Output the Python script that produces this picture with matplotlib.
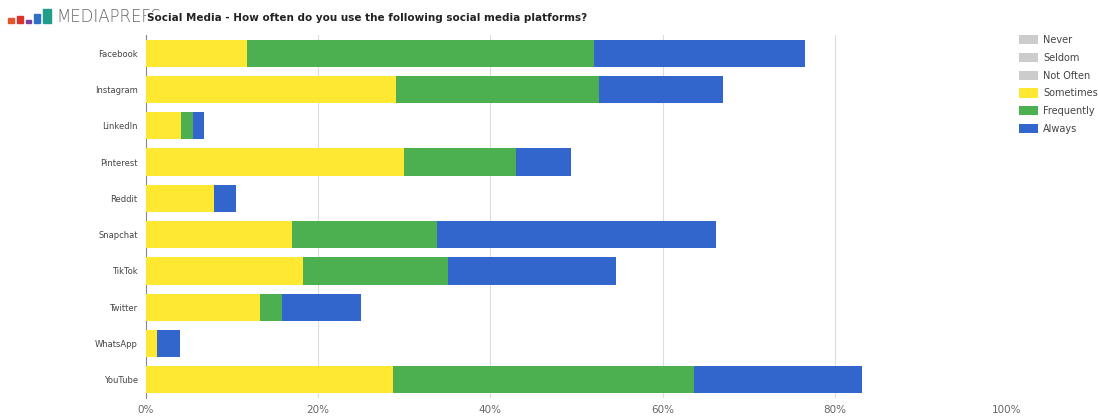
import matplotlib.pyplot as plt
from matplotlib.patches import Rectangle

platforms = ['Facebook', 'Instagram', 'LinkedIn', 'Pinterest', 'Reddit',
             'Snapchat', 'TikTok', 'Twitter', 'WhatsApp', 'YouTube']
never = [0, 0, 0, 0, 0, 0, 0, 0, 0, 0]
seldom = [0, 0, 0, 0, 0, 0, 0, 0, 0, 0]
not_often = [0, 0, 0, 0, 0, 0, 0, 0, 0, 0]
sometimes = [11.7, 29.0, 4.1, 30.0, 7.9, 17.0, 18.2, 13.2, 1.3, 28.7]
frequently = [40.3, 23.6, 1.4, 13.0, 0.0, 16.8, 16.9, 2.6, 0.0, 34.9]
always = [24.5, 14.4, 1.2, 6.4, 2.6, 32.4, 19.5, 9.2, 2.6, 19.6]
xticks = [0, 20, 40, 60, 80, 100]
xticklabels = ['0%', '20%', '40%', '60%', '80%', '100%']

series = [('Never', never, '#cccccc'), ('Seldom', seldom, '#cccccc'),
          ('Not Often', not_often, '#cccccc'), ('Sometimes', sometimes, '#fee831'),
          ('Frequently', frequently, '#4caf50'), ('Always', always, '#3366cc')]

fig = plt.figure(figsize=(10.98, 4.18), dpi=100)
ax = fig.add_axes([146 / 1098, 20 / 418, 861 / 1098, 363 / 418])

ypos = list(range(len(platforms)))
left = [0] * len(platforms)
for name, vals, col in series:
    ax.barh(ypos, vals, left=left, height=0.75, color=col, label=name, zorder=3)
    left = [l + v for l, v in zip(left, vals)]

ax.set_xlim(0, 100)
ax.set_ylim(len(platforms) - 0.5, -0.5)
ax.set_yticks(ypos)
ax.set_yticklabels(platforms, fontsize=6, color='#444444')
ax.set_xticks(xticks)
ax.set_xticklabels(xticklabels, fontsize=7.5, color='#666666')
ax.tick_params(axis='y', length=0, pad=6)
ax.tick_params(axis='x', length=0, pad=5)
ax.grid(axis='x', color='#dddddd', lw=0.8, zorder=0)
for s in ['top', 'right', 'bottom']:
    ax.spines[s].set_visible(False)
ax.spines['left'].set_color('#888888')

leg = fig.legend(loc='upper left', bbox_to_anchor=(1019 / 1098, 1 - 35 / 418),
                 frameon=False, fontsize=7, handlelength=2.0, handleheight=1.1,
                 labelspacing=0.8, handletextpad=0.5, borderaxespad=0, borderpad=0)
for t in leg.get_texts():
    t.set_color('#444444')

# logo
logo_cols = ['#e8542a', '#d9342b', '#7b3fa0', '#2f6fc8', '#1f9e89']
logo_h = [5, 7, 3, 9, 14]
logo_w = [6, 6, 5, 6, 8]
x0 = 8
for c, h, w in zip(logo_cols, logo_h, logo_w):
    fig.patches.append(Rectangle((x0 / 1098, 1 - 23 / 418), w / 1098, h / 418,
                                 transform=fig.transFigure, color=c))
    x0 += w + 3
fig.text(56 / 1098, 1 - 17 / 418, 'MEDIAPREFS', fontsize=12, color='#666666',
         va='center', ha='left', fontweight='light')
fig.text(147 / 1098, 1 - 18 / 418,
         'Social Media - How often do you use the following social media platforms?',
         fontsize=7.5, fontweight='bold', color='#222222', va='center', ha='left',
         bbox=dict(facecolor='white', edgecolor='none', pad=1))

fig.savefig('out.png', dpi=100)
